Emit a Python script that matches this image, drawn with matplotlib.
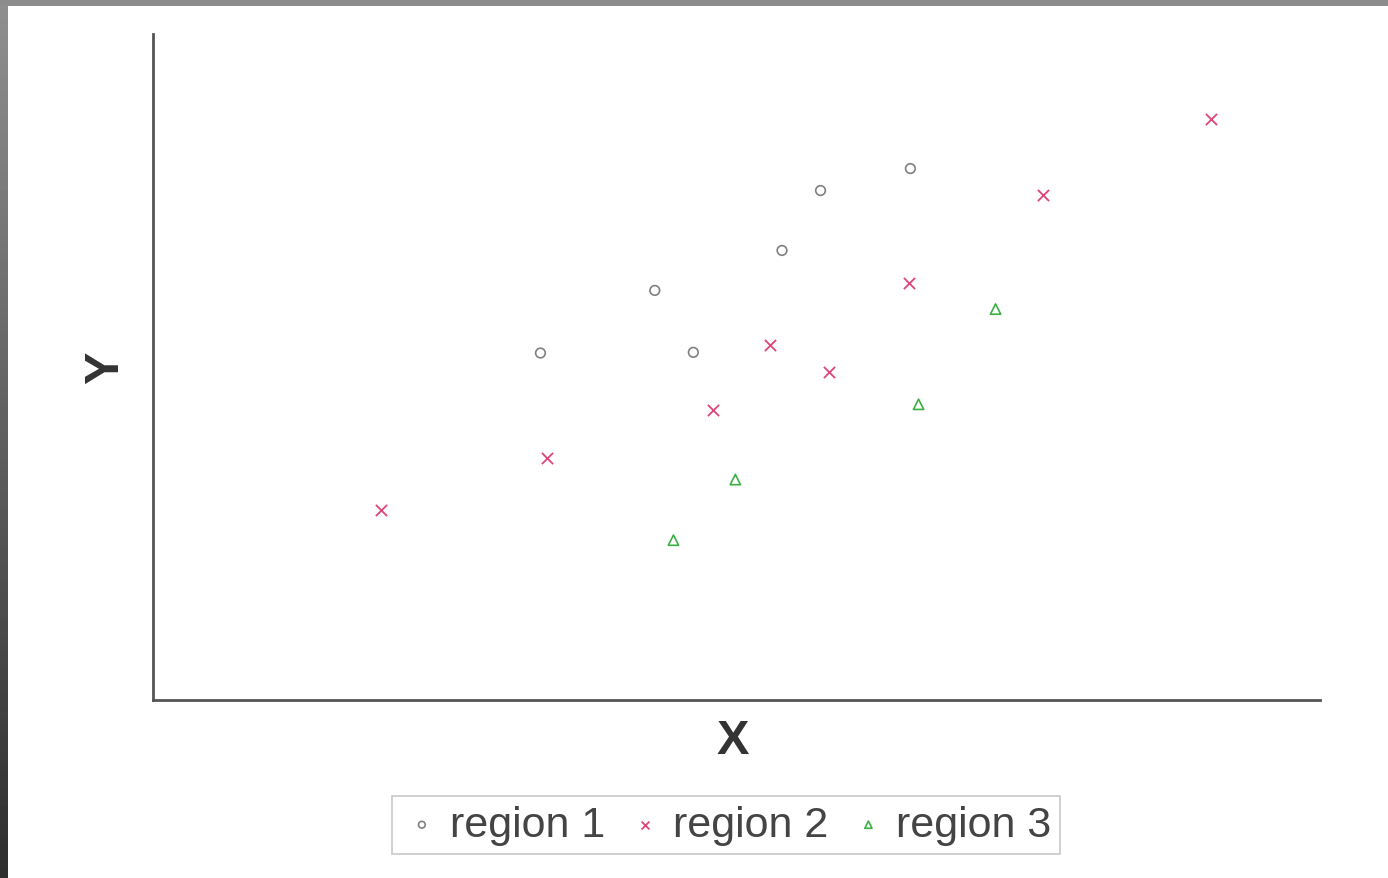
import numpy as np
import matplotlib
matplotlib.use("Agg")
import matplotlib.pyplot as plt
from matplotlib.patches import Rectangle

# valores (unidades arbitrarias, ejes 0-10)
r1_x = [3.32, 4.30, 4.63, 5.39, 5.72, 6.49]
r1_y = [5.21, 6.15, 5.22, 6.75, 7.65, 7.98]

r2_x = [1.95, 3.38, 4.80, 5.29, 5.79, 6.48, 7.63, 9.07]
r2_y = [2.86, 3.63, 4.36, 5.33, 4.93, 6.26, 7.58, 8.73]

r3_x = [4.46, 4.99, 6.56, 7.22]
r3_y = [2.40, 3.31, 4.44, 5.87]

plt.rcParams['font.family'] = ['Liberation Sans', 'DejaVu Sans']

fig = plt.figure(figsize=(13.88, 8.79), dpi=100)
fig.patch.set_facecolor('white')

# marco gris del escaneo
fig.patches.append(Rectangle((0, 1 - 7/879), 1, 7/879, transform=fig.transFigure,
                             facecolor='#8c8c8c', edgecolor='none', zorder=0))
ax_b = fig.add_axes([0, 0, 8/1388, 1 - 7/879])
grad = np.linspace(0.56, 0.18, 256).reshape(-1, 1)
ax_b.imshow(grad, aspect='auto', cmap='gray', vmin=0, vmax=1)
ax_b.axis('off')

ax = fig.add_axes([153/1388, 178/879, (1320 - 153)/1388, (701 - 35)/879])
ax.scatter(r1_x, r1_y, marker='o', s=48, facecolors='none', edgecolors='#808080',
           linewidths=1.2, label='region 1')
ax.scatter(r2_x, r2_y, marker='x', s=65, color='#e0457a', linewidths=1.3,
           label='region 2')
ax.scatter(r3_x, r3_y, marker='^', s=55, facecolors='none', edgecolors='#3cb043',
           linewidths=1.2, label='region 3')

ax.set_xlim(0, 10)
ax.set_ylim(0, 10)
ax.set_xticks([])
ax.set_yticks([])
for s in ['top', 'right']:
    ax.spines[s].set_visible(False)
for s in ['left', 'bottom']:
    ax.spines[s].set_color('#555555')
    ax.spines[s].set_linewidth(2.0)

fig.text(733/1388, 1 - 742/879, 'X', fontsize=35, fontweight='bold',
         color='#333333', ha='center', va='center')
fig.text(106/1388, 1 - 368/879, 'Y', fontsize=35, fontweight='bold',
         color='#333333', ha='center', va='center', rotation=90)

leg = fig.legend(loc='center', bbox_to_anchor=(726/1388, 53/879), ncol=3,
                 fontsize=31, markerscale=0.7, handlelength=1.0,
                 handletextpad=0.15, columnspacing=0.43, borderpad=0.2,
                 fancybox=False, frameon=True)
leg.get_frame().set_edgecolor('#bbbbbb')
leg.get_frame().set_linewidth(1.2)
for t in leg.get_texts():
    t.set_color('#444444')

fig.savefig('out.png', dpi=100)
